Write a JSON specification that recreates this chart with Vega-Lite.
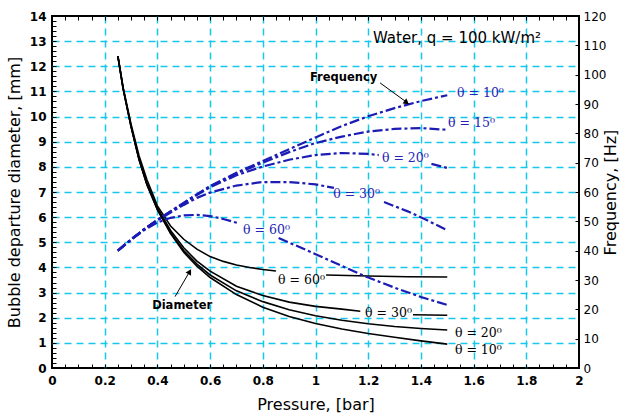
{
  "$schema": "https://vega.github.io/schema/vega-lite/v6.json",
  "width": 527,
  "height": 352,
  "autosize": "none",
  "padding": {"left": 52, "top": 16, "right": 46, "bottom": 48},
  "background": "white",
  "config": {
    "view": {"stroke": "#000", "strokeWidth": 2},
    "axis": {"domain": false, "tickColor": "#000", "labelColor": "#000", "titleColor": "#000"}
  },
  "datasets": {
    "diameter": [
      {"p": 0.25, "d": 12.4, "seg": "10"}, {"p": 0.27, "d": 11.1, "seg": "10"}, {"p": 0.3, "d": 9.6, "seg": "10"}, {"p": 0.33, "d": 8.3, "seg": "10"}, {"p": 0.36, "d": 7.3, "seg": "10"}, {"p": 0.4, "d": 6.3, "seg": "10"}, {"p": 0.45, "d": 5.35, "seg": "10"}, {"p": 0.5, "d": 4.6, "seg": "10"}, {"p": 0.55, "d": 4.05, "seg": "10"}, {"p": 0.6, "d": 3.6, "seg": "10"}, {"p": 0.7, "d": 2.92, "seg": "10"}, {"p": 0.8, "d": 2.42, "seg": "10"}, {"p": 0.9, "d": 2.05, "seg": "10"}, {"p": 1.0, "d": 1.77, "seg": "10"}, {"p": 1.1, "d": 1.55, "seg": "10"}, {"p": 1.2, "d": 1.37, "seg": "10"}, {"p": 1.3, "d": 1.22, "seg": "10"}, {"p": 1.4, "d": 1.08, "seg": "10"}, {"p": 1.5, "d": 0.95, "seg": "10"},
      {"p": 0.25, "d": 12.4, "seg": "20"}, {"p": 0.27, "d": 11.1, "seg": "20"}, {"p": 0.3, "d": 9.6, "seg": "20"}, {"p": 0.33, "d": 8.3, "seg": "20"}, {"p": 0.36, "d": 7.3, "seg": "20"}, {"p": 0.4, "d": 6.3, "seg": "20"}, {"p": 0.45, "d": 5.38, "seg": "20"}, {"p": 0.5, "d": 4.67, "seg": "20"}, {"p": 0.55, "d": 4.13, "seg": "20"}, {"p": 0.6, "d": 3.7, "seg": "20"}, {"p": 0.7, "d": 3.07, "seg": "20"}, {"p": 0.8, "d": 2.64, "seg": "20"}, {"p": 0.9, "d": 2.32, "seg": "20"}, {"p": 1.0, "d": 2.08, "seg": "20"}, {"p": 1.1, "d": 1.9, "seg": "20"}, {"p": 1.2, "d": 1.76, "seg": "20"}, {"p": 1.3, "d": 1.65, "seg": "20"}, {"p": 1.4, "d": 1.57, "seg": "20"}, {"p": 1.5, "d": 1.51, "seg": "20"},
      {"p": 0.25, "d": 12.4, "seg": "30a"}, {"p": 0.27, "d": 11.12, "seg": "30a"}, {"p": 0.3, "d": 9.62, "seg": "30a"}, {"p": 0.33, "d": 8.33, "seg": "30a"}, {"p": 0.36, "d": 7.35, "seg": "30a"}, {"p": 0.4, "d": 6.37, "seg": "30a"}, {"p": 0.45, "d": 5.47, "seg": "30a"}, {"p": 0.5, "d": 4.78, "seg": "30a"}, {"p": 0.55, "d": 4.25, "seg": "30a"}, {"p": 0.6, "d": 3.85, "seg": "30a"}, {"p": 0.7, "d": 3.25, "seg": "30a"}, {"p": 0.8, "d": 2.88, "seg": "30a"}, {"p": 0.9, "d": 2.62, "seg": "30a"}, {"p": 1.0, "d": 2.45, "seg": "30a"}, {"p": 1.1, "d": 2.34, "seg": "30a"}, {"p": 1.17, "d": 2.26, "seg": "30a"},
      {"p": 1.37, "d": 2.12, "seg": "30b"}, {"p": 1.5, "d": 2.1, "seg": "30b"},
      {"p": 0.25, "d": 12.4, "seg": "60a"}, {"p": 0.27, "d": 11.15, "seg": "60a"}, {"p": 0.3, "d": 9.7, "seg": "60a"}, {"p": 0.33, "d": 8.45, "seg": "60a"}, {"p": 0.36, "d": 7.5, "seg": "60a"}, {"p": 0.4, "d": 6.45, "seg": "60a"}, {"p": 0.45, "d": 5.65, "seg": "60a"}, {"p": 0.5, "d": 5.12, "seg": "60a"}, {"p": 0.55, "d": 4.73, "seg": "60a"}, {"p": 0.6, "d": 4.43, "seg": "60a"}, {"p": 0.65, "d": 4.24, "seg": "60a"}, {"p": 0.7, "d": 4.1, "seg": "60a"}, {"p": 0.75, "d": 4.0, "seg": "60a"}, {"p": 0.8, "d": 3.92, "seg": "60a"}, {"p": 0.85, "d": 3.86, "seg": "60a"},
      {"p": 1.04, "d": 3.7, "seg": "60b"}, {"p": 1.2, "d": 3.66, "seg": "60b"}, {"p": 1.35, "d": 3.63, "seg": "60b"}, {"p": 1.5, "d": 3.62, "seg": "60b"}
    ],
    "frequency": [
      {"p": 0.25, "f": 40, "seg": "10"}, {"p": 0.3, "f": 43.8, "seg": "10"}, {"p": 0.35, "f": 47.3, "seg": "10"}, {"p": 0.4, "f": 50.5, "seg": "10"}, {"p": 0.45, "f": 53.4, "seg": "10"}, {"p": 0.5, "f": 56.3, "seg": "10"}, {"p": 0.55, "f": 59.2, "seg": "10"}, {"p": 0.6, "f": 62, "seg": "10"}, {"p": 0.7, "f": 66.6, "seg": "10"}, {"p": 0.8, "f": 70.6, "seg": "10"}, {"p": 0.9, "f": 74.6, "seg": "10"}, {"p": 1.0, "f": 78.6, "seg": "10"}, {"p": 1.1, "f": 82.5, "seg": "10"}, {"p": 1.2, "f": 85.8, "seg": "10"}, {"p": 1.3, "f": 88.6, "seg": "10"}, {"p": 1.4, "f": 91, "seg": "10"}, {"p": 1.5, "f": 93, "seg": "10"},
      {"p": 0.25, "f": 40, "seg": "15"}, {"p": 0.3, "f": 43.8, "seg": "15"}, {"p": 0.35, "f": 47.3, "seg": "15"}, {"p": 0.4, "f": 50.5, "seg": "15"}, {"p": 0.45, "f": 53.4, "seg": "15"}, {"p": 0.5, "f": 56.3, "seg": "15"}, {"p": 0.55, "f": 59.2, "seg": "15"}, {"p": 0.6, "f": 61.9, "seg": "15"}, {"p": 0.7, "f": 66.3, "seg": "15"}, {"p": 0.8, "f": 70, "seg": "15"}, {"p": 0.9, "f": 73.6, "seg": "15"}, {"p": 1.0, "f": 76.7, "seg": "15"}, {"p": 1.1, "f": 78.9, "seg": "15"}, {"p": 1.2, "f": 80.6, "seg": "15"}, {"p": 1.3, "f": 81.5, "seg": "15"}, {"p": 1.4, "f": 81.8, "seg": "15"}, {"p": 1.5, "f": 81.2, "seg": "15"},
      {"p": 0.25, "f": 40, "seg": "20a"}, {"p": 0.3, "f": 43.8, "seg": "20a"}, {"p": 0.35, "f": 47.3, "seg": "20a"}, {"p": 0.4, "f": 50.5, "seg": "20a"}, {"p": 0.45, "f": 53.3, "seg": "20a"}, {"p": 0.5, "f": 56.1, "seg": "20a"}, {"p": 0.55, "f": 59, "seg": "20a"}, {"p": 0.6, "f": 61.6, "seg": "20a"}, {"p": 0.7, "f": 65.7, "seg": "20a"}, {"p": 0.8, "f": 68.7, "seg": "20a"}, {"p": 0.9, "f": 71, "seg": "20a"}, {"p": 1.0, "f": 72.6, "seg": "20a"}, {"p": 1.1, "f": 73.3, "seg": "20a"}, {"p": 1.2, "f": 73, "seg": "20a"}, {"p": 1.24, "f": 72.6, "seg": "20a"},
      {"p": 1.44, "f": 69.6, "seg": "20b"}, {"p": 1.5, "f": 68.2, "seg": "20b"},
      {"p": 0.25, "f": 40, "seg": "30a"}, {"p": 0.3, "f": 43.8, "seg": "30a"}, {"p": 0.35, "f": 47.3, "seg": "30a"}, {"p": 0.4, "f": 50.3, "seg": "30a"}, {"p": 0.45, "f": 53, "seg": "30a"}, {"p": 0.5, "f": 55.6, "seg": "30a"}, {"p": 0.55, "f": 58, "seg": "30a"}, {"p": 0.6, "f": 59.8, "seg": "30a"}, {"p": 0.7, "f": 62.2, "seg": "30a"}, {"p": 0.8, "f": 63.4, "seg": "30a"}, {"p": 0.9, "f": 63.4, "seg": "30a"}, {"p": 1.0, "f": 62.6, "seg": "30a"}, {"p": 1.07, "f": 61.4, "seg": "30a"},
      {"p": 1.26, "f": 56.6, "seg": "30b"}, {"p": 1.35, "f": 53.4, "seg": "30b"}, {"p": 1.42, "f": 50.5, "seg": "30b"}, {"p": 1.5, "f": 47, "seg": "30b"},
      {"p": 0.25, "f": 40, "seg": "60a"}, {"p": 0.3, "f": 43.7, "seg": "60a"}, {"p": 0.35, "f": 47, "seg": "60a"}, {"p": 0.4, "f": 49.6, "seg": "60a"}, {"p": 0.45, "f": 51.2, "seg": "60a"}, {"p": 0.5, "f": 52, "seg": "60a"}, {"p": 0.55, "f": 52.2, "seg": "60a"}, {"p": 0.6, "f": 51.8, "seg": "60a"}, {"p": 0.65, "f": 50.8, "seg": "60a"}, {"p": 0.71, "f": 49.3, "seg": "60a"},
      {"p": 0.86, "f": 44.3, "seg": "60b"}, {"p": 0.95, "f": 40.8, "seg": "60b"}, {"p": 1.05, "f": 36.8, "seg": "60b"}, {"p": 1.19, "f": 31.2, "seg": "60b"}, {"p": 1.3, "f": 27.4, "seg": "60b"}, {"p": 1.4, "f": 24.2, "seg": "60b"}, {"p": 1.5, "f": 21.5, "seg": "60b"}
    ],
    "blueLabels": [
      {"p": 1.537, "f": 93.8, "t": "θ = 10⁰"},
      {"p": 1.503, "f": 83.5, "t": "θ = 15⁰"},
      {"p": 1.252, "f": 71.6, "t": "θ = 20⁰"},
      {"p": 1.067, "f": 59.3, "t": "θ = 30⁰"},
      {"p": 0.725, "f": 47, "t": "θ = 60⁰"}
    ],
    "blackLabels": [
      {"p": 0.858, "d": 3.5, "t": "θ = 60⁰"},
      {"p": 1.188, "d": 2.19, "t": "θ = 30⁰"},
      {"p": 1.529, "d": 1.39, "t": "θ = 20⁰"},
      {"p": 1.529, "d": 0.72, "t": "θ = 10⁰"}
    ],
    "noteFreq": [{"p": 0.979, "f": 98.9, "t": "Frequency"}],
    "noteTitle": [{"p": 1.218, "f": 112.5, "t": "Water, q = 100 kW/m²"}],
    "noteDiam": [{"p": 0.38, "d": 2.47, "t": "Diameter"}],
    "arrowFreq": [{"p": 1.245, "f": 97.2, "p2": 1.352, "f2": 90.2}],
    "arrowFreqHead": [{"p": 1.346, "f": 90.5}],
    "arrowDiam": [{"p": 0.467, "d": 2.84, "p2": 0.526, "d2": 3.9}],
    "arrowDiamHead": [{"p": 0.5226, "d": 3.83}]
  },
  "layer": [
    {
      "encoding": {
        "x": {
          "field": "p", "type": "quantitative",
          "scale": {"domain": [0, 2], "nice": false, "zero": false},
          "axis": {
            "orient": "bottom",
            "title": "Pressure, [bar]",
            "titleFont": "DejaVu Sans", "titleFontSize": 16, "titleFontWeight": "normal", "titlePadding": 10,
            "values": [0, 0.05, 0.1, 0.15, 0.2, 0.25, 0.3, 0.35, 0.4, 0.45, 0.5, 0.55, 0.6, 0.65, 0.7, 0.75, 0.8, 0.85, 0.9, 0.95, 1, 1.05, 1.1, 1.15, 1.2, 1.25, 1.3, 1.35, 1.4, 1.45, 1.5, 1.55, 1.6, 1.65, 1.7, 1.75, 1.8, 1.85, 1.9, 1.95, 2],
            "labelExpr": "abs(datum.value*5-round(datum.value*5))<0.001 ? format(datum.value, '~g') : ''",
            "labelFont": "DejaVu Sans", "labelFontSize": 12, "labelFontWeight": "bold",
            "labelFlush": false, "labelOverlap": false, "labelBound": false, "labelPadding": 11,
            "tickSize": -4, "tickWidth": 1,
            "grid": true, "gridColor": "#16c6ec", "gridDash": [7, 5], "gridWidth": 1.5,
            "gridOpacity": {"condition": {"test": "abs(datum.value*5-round(datum.value*5))<0.001 && datum.value>0.01 && datum.value<1.99", "value": 1}, "value": 0}
          }
        },
        "y": {
          "field": "d", "type": "quantitative",
          "scale": {"domain": [0, 14], "nice": false},
          "axis": {
            "orient": "left",
            "title": "Bubble departure diameter, [mm]",
            "titleFont": "DejaVu Sans", "titleFontSize": 16, "titleFontWeight": "normal", "titlePadding": 7,
            "values": [0, 0.2, 0.4, 0.6, 0.8, 1, 1.2, 1.4, 1.6, 1.8, 2, 2.2, 2.4, 2.6, 2.8, 3, 3.2, 3.4, 3.6, 3.8, 4, 4.2, 4.4, 4.6, 4.8, 5, 5.2, 5.4, 5.6, 5.8, 6, 6.2, 6.4, 6.6, 6.8, 7, 7.2, 7.4, 7.6, 7.8, 8, 8.2, 8.4, 8.6, 8.8, 9, 9.2, 9.4, 9.6, 9.8, 10, 10.2, 10.4, 10.6, 10.8, 11, 11.2, 11.4, 11.6, 11.8, 12, 12.2, 12.4, 12.6, 12.8, 13, 13.2, 13.4, 13.6, 13.8, 14],
            "labelExpr": "abs(datum.value-round(datum.value))<0.001 ? format(datum.value, '~g') : ''",
            "labelFont": "DejaVu Sans", "labelFontSize": 12, "labelFontWeight": "bold",
            "labelFlush": false, "labelOverlap": false, "labelBound": false, "labelPadding": 10,
            "tickSize": -4, "tickWidth": 1,
            "grid": true, "gridColor": "#16c6ec", "gridDash": [7, 5], "gridWidth": 1.5,
            "gridOpacity": {"condition": {"test": "abs(datum.value-round(datum.value))<0.001 && datum.value>0.01 && datum.value<13.99", "value": 1}, "value": 0}
          }
        }
      },
      "layer": [
        {
          "data": {"name": "diameter"},
          "mark": {"type": "line", "color": "#000", "strokeWidth": 1.6},
          "encoding": {"detail": {"field": "seg"}}
        },
        {
          "data": {"name": "blackLabels"},
          "mark": {"type": "text", "align": "left", "baseline": "middle", "font": "DejaVu Serif", "fontSize": 12.5, "color": "#000"},
          "encoding": {"text": {"field": "t"}}
        },
        {
          "data": {"name": "noteDiam"},
          "mark": {"type": "text", "align": "left", "baseline": "middle", "font": "DejaVu Sans", "fontSize": 11.5, "fontWeight": "bold", "color": "#000"},
          "encoding": {"text": {"field": "t"}}
        },
        {
          "data": {"name": "arrowDiam"},
          "mark": {"type": "rule", "color": "#000", "strokeWidth": 1},
          "encoding": {"x2": {"field": "p2"}, "y2": {"field": "d2"}}
        },
        {
          "data": {"name": "arrowDiamHead"},
          "mark": {"type": "point", "shape": "triangle-up", "filled": true, "color": "#000", "size": 40, "angle": 30, "opacity": 1},
          "encoding": {}
        }
      ]
    },
    {
      "encoding": {
        "x": {
          "field": "p", "type": "quantitative",
          "scale": {"domain": [0, 2], "nice": false, "zero": false},
          "axis": {
            "orient": "top",
            "title": null,
            "values": [0, 0.05, 0.1, 0.15, 0.2, 0.25, 0.3, 0.35, 0.4, 0.45, 0.5, 0.55, 0.6, 0.65, 0.7, 0.75, 0.8, 0.85, 0.9, 0.95, 1, 1.05, 1.1, 1.15, 1.2, 1.25, 1.3, 1.35, 1.4, 1.45, 1.5, 1.55, 1.6, 1.65, 1.7, 1.75, 1.8, 1.85, 1.9, 1.95, 2],
            "labels": false, "grid": false,
            "tickSize": -4, "tickWidth": 1
          }
        },
        "y": {
          "field": "f", "type": "quantitative",
          "scale": {"domain": [0, 120], "nice": false},
          "axis": {
            "orient": "right",
            "title": "Frequency, [Hz]",
            "titleAngle": 270,
            "titleFont": "DejaVu Sans", "titleFontSize": 16, "titleFontWeight": "normal", "titlePadding": 13,
            "values": [0, 10, 20, 30, 40, 50, 60, 70, 80, 90, 100, 110, 120],
            "labelFont": "DejaVu Sans", "labelFontSize": 12, "labelFontWeight": "normal",
            "labelFlush": false, "labelOverlap": false, "labelBound": false, "labelPadding": 8,
            "tickSize": -4, "tickWidth": 1,
            "grid": false
          }
        }
      },
      "layer": [
        {
          "data": {"name": "frequency"},
          "mark": {"type": "line", "color": "#1c1cb4", "strokeWidth": 2.2, "strokeDash": [10, 3, 3, 3]},
          "encoding": {"detail": {"field": "seg"}}
        },
        {
          "data": {"name": "blueLabels"},
          "mark": {"type": "text", "align": "left", "baseline": "middle", "font": "DejaVu Serif", "fontSize": 12.5, "color": "#2424b4"},
          "encoding": {"text": {"field": "t"}}
        },
        {
          "data": {"name": "noteFreq"},
          "mark": {"type": "text", "align": "left", "baseline": "middle", "font": "DejaVu Sans", "fontSize": 11.5, "fontWeight": "bold", "color": "#000"},
          "encoding": {"text": {"field": "t"}}
        },
        {
          "data": {"name": "noteTitle"},
          "mark": {"type": "text", "align": "left", "baseline": "middle", "font": "DejaVu Sans", "fontSize": 15, "color": "#000"},
          "encoding": {"text": {"field": "t"}}
        },
        {
          "data": {"name": "arrowFreq"},
          "mark": {"type": "rule", "color": "#000", "strokeWidth": 1},
          "encoding": {"x2": {"field": "p2"}, "y2": {"field": "f2"}}
        },
        {
          "data": {"name": "arrowFreqHead"},
          "mark": {"type": "point", "shape": "triangle-up", "filled": true, "color": "#000", "size": 40, "angle": 126, "opacity": 1},
          "encoding": {}
        }
      ]
    }
  ],
  "resolve": {"scale": {"y": "independent"}, "axis": {"x": "independent"}}
}
